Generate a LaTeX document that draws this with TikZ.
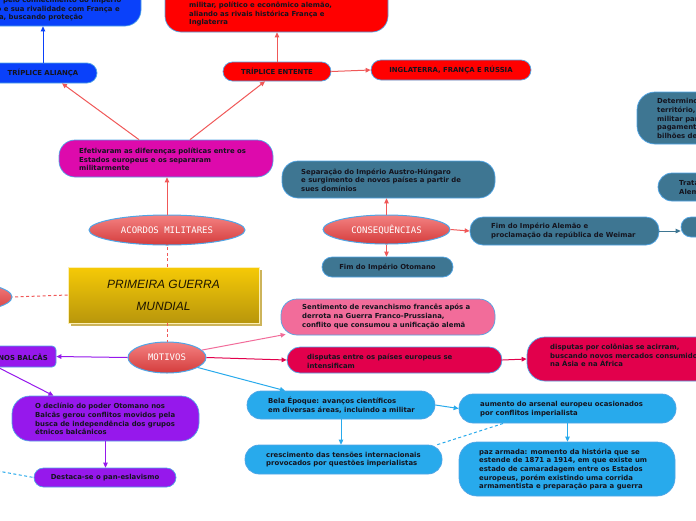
\documentclass[tikz,border=0pt]{standalone}
\usepackage{fontspec}
\setmainfont{DejaVu Sans}
\newfontfamily\ellf{DejaVu Sans Mono}
\newfontfamily\titf{Liberation Sans}
\usetikzlibrary{shapes.geometric,arrows.meta,calc,shadows}
\definecolor{cblue}{RGB}{10,65,250}
\definecolor{cred}{RGB}{255,0,0}
\definecolor{cmag}{RGB}{221,10,172}
\definecolor{cteal}{RGB}{62,118,146}
\definecolor{cpink}{RGB}{242,108,154}
\definecolor{ccrim}{RGB}{226,0,76}
\definecolor{cpurp}{RGB}{150,24,236}
\definecolor{clb}{RGB}{40,170,236}
\definecolor{cborder}{RGB}{80,165,230}
\definecolor{ctext}{RGB}{20,20,30}
\definecolor{lred}{RGB}{240,88,88}
\definecolor{ellA}{RGB}{244,130,130}
\definecolor{ellB}{RGB}{212,60,60}
\definecolor{goldA}{RGB}{246,202,6}
\definecolor{goldB}{RGB}{184,150,12}
\definecolor{shc}{RGB}{205,180,90}
\newcommand\mkbox[8]{\node[box,fill=#2,minimum width={(#5)-(#3)},minimum height={(#6)-(#4)},#7] (#1) at ({((#3)+(#5))/2},{((#4)+(#6))/2}) {#8};}
\tikzset{
  box/.style={draw=cborder, line width=0.7pt, inner sep=0pt, rounded corners=16pt, text=ctext, font=\fontsize{6.9}{8.7}\selectfont\bfseries},
  txt/.style={inner sep=0pt, anchor=west, align=left, text=ctext, font=\fontsize{6.9}{8.7}\selectfont\bfseries},
  ell/.style={ellipse, draw=cborder, line width=1pt, top color=ellA, bottom color=ellB, text=white, inner sep=0pt, font=\ellf\fontsize{9}{10}\selectfont},
  conn/.style={-{Triangle[length=5pt,width=4.5pt]}, line width=1pt},
  dconn/.style={line width=1pt, dash pattern=on 3pt off 2.5pt},
}
\begin{document}
\begin{tikzpicture}[x=1pt,y=-1pt]
\useasboundingbox (0,0) rectangle (696,520);
\fill[white] (0,0) rectangle (696,520);
\clip (0,0) rectangle (696,520);

% boxes
\mkbox{bluetop}{cblue}{-60}{-30}{141}{26}{}{}
\mkbox{alliance}{cblue}{-11}{63}{97}{83}{rounded corners=10pt}{TRÍPLICE ALIANÇA}
\mkbox{redtop}{cred}{165}{-30}{388}{32}{}{}
\mkbox{entente}{cred}{223}{62}{331}{81}{rounded corners=9.5pt}{TRÍPLICE ENTENTE}
\mkbox{ingl}{cred}{371}{60}{531}{80}{rounded corners=10pt}{INGLATERRA, FRANÇA E RÚSSIA}
\mkbox{magenta}{cmag}{59}{140}{273}{177}{}{}
\mkbox{separ}{cteal}{282}{161}{495}{198}{}{}
\mkbox{fimot}{cteal}{322}{257}{453}{277}{rounded corners=10pt}{Fim do Império Otomano}
\mkbox{weimar}{cteal}{470}{217}{659}{245}{rounded corners=13pt}{}
\mkbox{partial}{cteal}{681}{217}{760}{237}{rounded corners=10pt}{}
\mkbox{tratado}{cteal}{658}{173}{800}{201}{rounded corners=14pt}{}
\mkbox{determ}{cteal}{637}{92}{800}{144}{rounded corners=18pt}{}
\mkbox{balcas}{cpurp}{-60}{346}{56}{367}{rounded corners=4pt}{}
\mkbox{sentim}{cpink}{281}{299}{495}{335}{}{}
\mkbox{disp1}{ccrim}{287}{347}{502}{373}{rounded corners=13pt}{}
\mkbox{disp2}{ccrim}{527}{337}{760}{381}{rounded corners=18pt}{}
\mkbox{otomano}{cpurp}{12}{396}{199}{441}{rounded corners=18pt}{}
\mkbox{destaca}{cpurp}{34}{468}{176}{487}{rounded corners=9.5pt}{Destaca-se o pan-eslavismo}
\mkbox{bela}{clb}{247}{391}{435}{419}{rounded corners=14pt}{}
\mkbox{cresc}{clb}{245}{445}{442}{474}{rounded corners=14pt}{}
\mkbox{aumento}{clb}{459}{394}{676}{423}{rounded corners=14pt}{}
\mkbox{paz}{clb}{459}{442}{675}{496}{rounded corners=18pt}{}

% texts
\node[txt] (bluetop-t) at (-22,9) {Itália, pelo conhecimento do Império\\Russo e sua rivalidade com França e\\Rússia, buscando proteção};
\node[txt] (redtop-t) at (189,14) {militar, político e econômico alemão,\\aliando as rivais histórica França e\\Inglaterra};
\node[txt] (magenta-t) at (79,159.5) {Efetivaram as diferenças políticas entre os\\Estados europeus e os separaram\\militarmente};
\node[txt] (separ-t) at (301,180) {Separação do Império Austro-Húngaro\\e surgimento de novos países a partir de\\sues domínios};
\node[txt] (weimar-t) at (491,231) {Fim do Império Alemão e\\proclamação da república de Weimar};
\node[txt] (tratado-t) at (679,187) {Tratado de Versalhes imposto à\\Alemanha};
\node[txt] (determ-t) at (657,118.5) {Determinou a perda de parte do\\território, a limitação do poder\\militar para 100 mil homens e o\\pagamento de indenização de 33\\bilhões de dólares};
\node[txt,anchor=east] (balcas-t) at (48,357) {TENSÕES NOS BALCÃS};
\node[txt] (sentim-t) at (302,316.5) {Sentimento de revanchismo francês após a\\derrota na Guerra Franco-Prussiana,\\conflito que consumou a unificação alemã};
\node[txt] (disp1-t) at (307,361) {disputas entre os países europeus se\\intensificam};
\node[txt] (disp2-t) at (550,355.5) {disputas por colônias se acirram,\\buscando novos mercados consumidores\\na Ásia e na África};
\node[txt] (otomano-t) at (35,419) {O declínio do poder Otomano nos\\Balcãs gerou conflitos movidos pela\\busca de independência dos grupos\\étnicos balcânicos};
\node[txt] (bela-t) at (268,405.5) {Bela Époque: avanços científicos\\em diversas áreas, incluindo a militar};
\node[txt] (cresc-t) at (266,459.5) {crescimento das tensões internacionais\\provocados por questões imperialistas};
\node[txt] (aumento-t) at (480,409) {aumento do arsenal europeu ocasionados\\por conflitos imperialista};
\node[txt] (paz-t) at (479,469.5) {paz armada: momento da história que se\\estende de 1871 a 1914, em que existe um\\estado de camaradagem entre os Estados\\europeus, porém existindo uma corrida\\armamentista e preparação para a guerra};

% central topic and ellipses
\node[draw=white!70!goldA, line width=0.6pt, top color=goldA, bottom color=goldB,
  minimum width=191pt, minimum height=56pt, inner sep=0pt, align=center,
  drop shadow={shadow xshift=3pt, shadow yshift=-3pt, fill=shc, opacity=1},
  text={rgb,255:red,30;green,22;blue,0}, font=\titf\itshape\fontsize{12}{22}\selectfont]
  (title) at (163.5,295) {PRIMEIRA GUERRA\\MUNDIAL};
\node[ell, minimum width=156pt, minimum height=30pt] (acordos) at (167,230) {ACORDOS MILITARES};
\node[ell, minimum width=127pt, minimum height=29pt] (conseq) at (386.5,229.5) {CONSEQUÊNCIAS};
\node[ell, minimum width=78pt, minimum height=31pt] (motivos) at (167,357.5) {MOTIVOS};
\node[ell, minimum width=126pt, minimum height=32pt] (leftell) at (-51,297) {};

% connectors
\draw[conn, cblue] (alliance.north) -- (alliance.north |- bluetop.south);
\draw[conn, lred] ([xshift=-27pt]magenta.north) -- ([xshift=19pt]alliance.south);
\draw[conn, lred] ([xshift=24pt]magenta.north) -- ([xshift=-12pt]entente.south);
\draw[conn, lred] (entente.north) -- (entente.north |- redtop.south);
\draw[conn, lred] (entente.east) -- (ingl.west);
\draw[conn, lred] (acordos.north) -- (acordos.north |- magenta.south);
\draw[dconn, lred] (acordos.south |- title.north) -- (acordos.south);
\draw[dconn, lred] (motivos.north |- title.south) -- (motivos.north);
\draw[dconn, lred] (title.west) -- (leftell.east);

\draw[conn, cpurp] (motivos.west) -- (balcas.east);
\draw[conn, cpurp] (balcas.south) -- ([xshift=-52pt]otomano.north);
\draw[conn, cpurp] (otomano.south) -- (otomano.south |- destaca.north);
\coordinate (offl) at (-30,466);
\draw[dconn, clb] (offl) -- (destaca.west);

\draw[conn, cpink] (motivos.12) -- ([xshift=5pt,yshift=1pt]sentim.south west);
\draw[conn, ccrim] (motivos.east) -- (disp1.west);
\draw[conn, ccrim] (disp1.east) -- (disp2.west);
\draw[conn, clb] (motivos.-18) -- ([xshift=-56pt]bela.north);
\draw[conn, clb] (bela.east) -- (aumento.west);
\draw[conn, clb] (bela.south) -- (bela.south |- cresc.north);
\draw[dconn, clb] ([xshift=-5pt]cresc.north east) -- ([xshift=-64pt]aumento.south);
\draw[conn, clb] (aumento.south) -- (aumento.south |- paz.north);

\draw[conn, lred] (conseq.north) -- (conseq.north |- separ.south);
\draw[conn, lred] (conseq.south) -- (conseq.south |- fimot.north);
\draw[conn, lred] (conseq.east) -- (weimar.west);
\draw[conn, cteal] (weimar.east) -- (weimar.east -| partial.west);
\end{tikzpicture}
\end{document}
